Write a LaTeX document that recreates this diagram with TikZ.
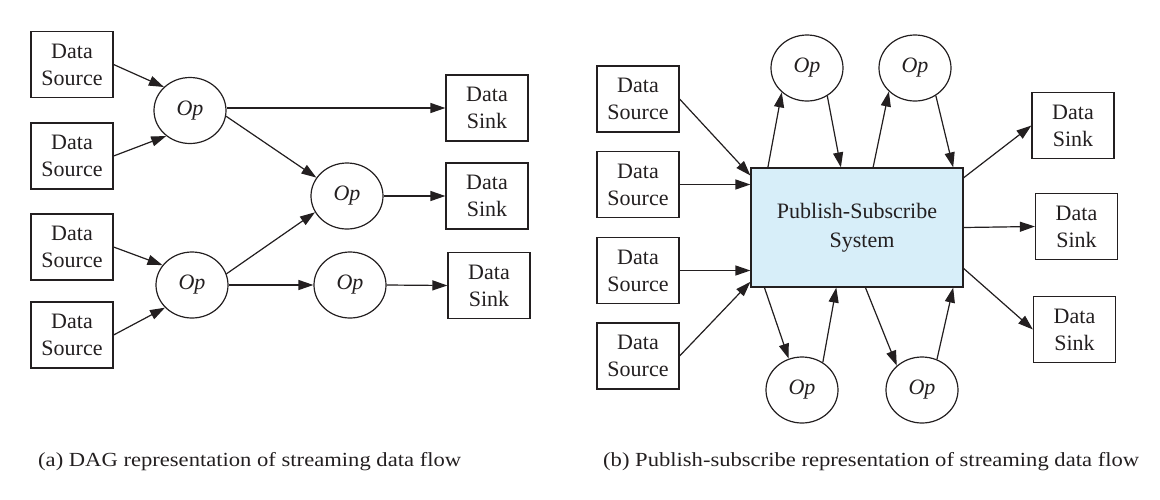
\documentclass[tikz,border=0pt]{standalone}
\usepackage{fontspec}
\setmainfont{Liberation Serif}
\newfontfamily\capfont[FakeStretch=1.13]{Liberation Serif}
\usetikzlibrary{shapes.geometric,arrows.meta,calc}
\definecolor{psfill}{RGB}{215,238,249}
\definecolor{ink}{RGB}{35,31,32}
\tikzset{
  boxnode/.style={draw=ink, line width=1.2pt, rectangle, minimum width=82pt, minimum height=66pt, inner sep=0pt, align=center, font=\fontsize{22}{27}\selectfont, text=ink},
  opnode/.style={draw=ink, line width=1.2pt, ellipse, minimum width=72pt, minimum height=66pt, inner sep=0pt, font=\fontsize{22}{27}\selectfont\itshape, text=ink},
  psnode/.style={draw=ink, line width=1.2pt, rectangle, fill=psfill, minimum width=212pt, minimum height=119pt, inner sep=0pt, align=center, font=\fontsize{22}{29}\selectfont, text=ink},
  capnode/.style={anchor=base west, inner sep=0pt, font=\capfont\fontsize{20}{24}\selectfont, text=ink},
  arr/.style={-{Triangle[length=15pt,width=10pt]}, draw=ink, fill=ink, line width=1.2pt}
}
\begin{document}
\begin{tikzpicture}[x=1pt,y=-1pt]
\useasboundingbox (0,0) rectangle (1160,499);
% ---------- (a) DAG ----------
\node[boxnode] (s1) at (72,64.5) {Data\\Source};
\node[boxnode] (s2) at (72,156) {Data\\Source};
\node[boxnode] (s3) at (72,247) {Data\\Source};
\node[boxnode] (s4) at (72,335) {Data\\Source};
\node[opnode] (o1) at (190,110.5) {Op};
\node[opnode] (o2) at (347,196) {Op};
\node[opnode] (o3) at (192,285) {Op};
\node[opnode] (o4) at (350,285) {Op};
\node[boxnode] (k1) at (487,108) {Data\\Sink};
\node[boxnode] (k2) at (487,196) {Data\\Sink};
\node[boxnode] (k3) at (489,285.5) {Data\\Sink};
\draw[arr] (s1.east) -- (o1.138);
\draw[arr] (s2.east) -- (o1.227);
\draw[arr] (s3.east) -- (o3.146);
\draw[arr] (s4.east) -- (o3.220);
\draw[arr] (o1.351) -- (o2.149);
\draw[arr] (o3.18) -- (o2.207);
\draw[arr] (o3.east) -- (o4.west);
\draw[arr] (k1.west -| o1.east) -- (k1.west);
\draw[arr] (o2.east) -- (k2.west);
\draw[arr] (o4.east) -- (k3.west);
% ---------- (b) Publish-subscribe ----------
\node[boxnode] (t1) at (638,99) {Data\\Source};
\node[boxnode] (t2) at (638,184.5) {Data\\Source};
\node[boxnode] (t3) at (638,270.5) {Data\\Source};
\node[boxnode] (t4) at (638,356) {Data\\Source};
\node[psnode] (ps) at (857,227.5) {\raisebox{-4pt}{Publish-Subscribe}\\\raisebox{-4pt}{\hspace*{10pt}System}};
\node[opnode] (p1) at (807,68) {Op};
\node[opnode] (p2) at (915,68) {Op};
\node[opnode] (p3) at (802,390) {Op};
\node[opnode] (p4) at (922,390) {Op};
\node[boxnode] (d1) at (1073,125.5) {Data\\Sink};
\node[boxnode] (d2) at (1076.5,226.5) {Data\\Sink};
\node[boxnode] (d3) at (1074.5,329.5) {Data\\Sink};
\draw[arr] (t1.east) -- (ps.154);
\draw[arr] (t2.east) -- (t2.east -| ps.west);
\draw[arr] (t3.east) -- (t3.east -| ps.west);
\draw[arr] (t4.east) -- (ps.207);
\draw[arr] (ps.146) -- (p1.224);
\draw[arr] (p1.306) -- (ps.105);
\draw[arr] (ps.75) -- (p2.222);
\draw[arr] (p2.307) -- (ps.32);
\draw[arr] (ps.213) -- (p3.113);
\draw[arr] (p3.53) -- (ps.251);
\draw[arr] (ps.278) -- (p4.136);
\draw[arr] (p4.64) -- (ps.328);
\draw[arr] (ps.25) -- (d1.west);
\draw[arr] (ps.east) -- (d2.west);
\draw[arr] (ps.339) -- (d3.west);
% ---------- captions ----------
\node[capnode] (ca) at (38,466) {(a) DAG representation of streaming data flow};
\node[capnode] (cb) at (603,466) {(b) Publish-subscribe representation of streaming data flow};
\end{tikzpicture}
\end{document}
